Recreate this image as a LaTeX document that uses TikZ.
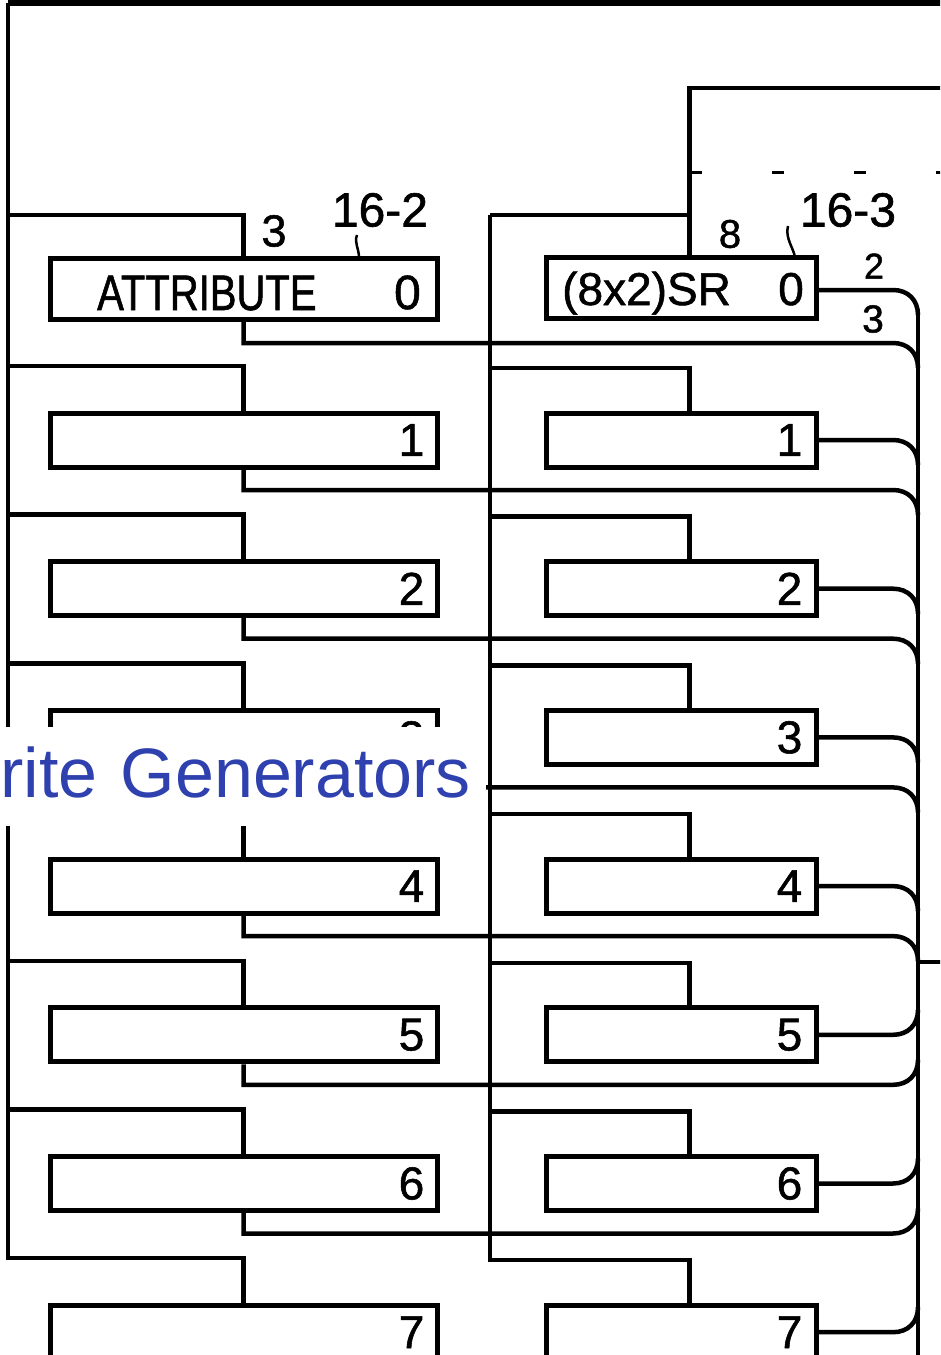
\documentclass[tikz,border=0pt]{standalone}
\usepackage{fontspec}
\setmainfont{Liberation Sans}
\newfontfamily\lett[FakeBold=1.2]{Liberation Sans}
\newfontfamily\lettn[FakeStretch=0.8,FakeBold=1.2]{Liberation Sans}
\definecolor{ovblue}{RGB}{47,64,175}
\tikzset{
  wire/.style={line width=4.5pt, line join=miter},
  thinwire/.style={line width=2.5pt},
  topwire/.style={line width=6pt},
  faint/.style={line width=3pt, dash pattern=on 12pt off 70pt},
  box/.style={draw, line width=5pt, rectangle, inner sep=0pt},
  lbox/.style={box, minimum width=387pt, minimum height=54pt},
  rbox/.style={box, minimum width=270pt, minimum height=54pt},
  idx/.style={font=\lett\fontsize{46pt}{46pt}\selectfont, inner sep=0pt, anchor=east},
  reflab/.style={font=\lett\fontsize{#1}{#1}\selectfont, inner sep=0pt},
}
\begin{document}
\begin{tikzpicture}[x=1pt,y=-1pt]
\useasboundingbox (0,0) rectangle (940,1355);
\clip (0,0) rectangle (940,1355);

% ---- row 0 boxes
\node[lbox, minimum height=61pt] (L0) at (243.5,289) {};
\node[rbox, minimum height=61pt] (R0) at (681,288) {};
\node[font=\lettn\fontsize{50pt}{50pt}\selectfont, inner sep=0pt, anchor=base west] (attr) at (97,310) {ATTRIBUTE};
\node[font=\lett\fontsize{48pt}{48pt}\selectfont, inner sep=0pt, anchor=base east] (nL0) at (421,309) {0};
\node[font=\lett\fontsize{46pt}{46pt}\selectfont, inner sep=0pt, anchor=base west] (sr) at (562,305) {(8x2)SR};
\node[font=\lett\fontsize{46pt}{46pt}\selectfont, inner sep=0pt, anchor=base east] (nR0) at (804,305) {0};

% ---- rows 1..7
\foreach \i in {1,...,7}{
  \pgfmathsetmacro\cy{440+148.7*(\i-1)}
  \node[lbox] (L\i) at (243.5,\cy) {};
  \node[rbox] (R\i) at (681,\cy) {};
  \node[idx] (nL\i) at ([xshift=-15pt]L\i.east) {\i};
  \node[idx] (nR\i) at ([xshift=-16pt]R\i.east) {\i};
  \coordinate (tL\i) at (8,\cy-74);
  \coordinate (tR\i) at (490,\cy-72);
}

% ---- top line and left bus
\coordinate (tlc) at (8,3);
\coordinate (trc) at (945,3);
\draw[topwire] (trc) -- (tlc);
\draw[wire] (tlc) -- (tL7) -| (L7.north);
\coordinate (tL0) at (8,215);
\draw[wire] (tL0) -| (L0.north);
\foreach \i in {1,...,6}{
  \draw[wire] (tL\i) -| (L\i.north);
}

% ---- right inner bus
\coordinate (tR0) at (490,215);
\coordinate (tp) at (689.5,88);
\coordinate (tpe) at (945,88);
\coordinate (tq) at (689.5,172);
\coordinate (tqe) at (945,172);
\draw[wire] (tpe) -- (tp) -- ([xshift=8.5pt]R0.north);
\draw[faint] (tq) -- (tqe);
\draw[wire] (tR0) -- (tR0 -| tp);
\draw[wire] (tR0) -- (tR7) -| ([xshift=8.5pt]R7.north);
\foreach \i in {1,...,6}{
  \draw[wire] (tR\i) -| ([xshift=8.5pt]R\i.north);
}

% ---- outer right bus
\coordinate (b0) at (918,315);
\coordinate (b9) at (918,1362);
\coordinate (st) at (918,962);
\coordinate (ste) at (945,962);
\draw[wire] (b0) -- (b9);
\draw[wire] (st) -- (ste);

% row 0 outputs
\coordinate (kR0) at (893,290);
\draw[wire] (R0.east |- kR0) -- (kR0) .. controls +(15,0) and +(0,-15) .. (b0);
\coordinate (kL0) at (893,343);
\coordinate (eL0) at (918,368);
\draw[wire] (L0.south) |- (kL0) .. controls +(15,0) and +(0,-15) .. (eL0);

% rows 1..7 outputs
\foreach \i in {1,...,7}{
  \pgfmathsetmacro\cy{440+148.7*(\i-1)}
  \pgfmathsetmacro\dir{\i<5 ? 1 : -1}
  \coordinate (kR\i) at (893,\cy);
  \coordinate (eR\i) at (918,\cy+25*\dir);
  \draw[wire] (R\i.east) -- (kR\i) .. controls +(15,0) and +(0,-15*\dir) .. (eR\i);
}
\foreach \i in {1,...,6}{
  \pgfmathsetmacro\cy{440+148.7*(\i-1)}
  \pgfmathsetmacro\dir{\i<5 ? 1 : -1}
  \coordinate (kL\i) at (893,\cy+50);
  \coordinate (eL\i) at (918,\cy+50+25*\dir);
  \draw[wire] (L\i.south) |- (kL\i) .. controls +(15,0) and +(0,-15*\dir) .. (eL\i);
}

% ---- reference labels
\node[reflab=45pt] (l3) at (274,231) {3};
\node[reflab=48pt] (l162) at (380,210) {16-2};
\node[reflab=40pt] (l8) at (730,234) {8};
\node[reflab=48pt] (l163) at (848,210) {16-3};
\node[reflab=36pt] (l2r) at (874,266) {2};
\node[reflab=39pt] (l3r) at (873,319) {3};
\coordinate (a1) at (357,235);
\coordinate (a2) at (359,258);
\draw[thinwire] (a1) .. controls +(-3,8) and +(0,-10) .. (a2);
\coordinate (c1) at (788,226);
\coordinate (c2) at (795,257);
\draw[thinwire] (c1) .. controls +(-3,12) and +(-2,-10) .. (c2);

% ---- overlay label
\node (gen) [fill=white, inner sep=0pt, anchor=north west, minimum width=486pt,
  minimum height=99pt, text width=486pt, align=left, text depth=10pt,
  font=\fontsize{70pt}{70pt}\selectfont, text=ovblue] at (0,727) {rite Generators};
\end{tikzpicture}
\end{document}
